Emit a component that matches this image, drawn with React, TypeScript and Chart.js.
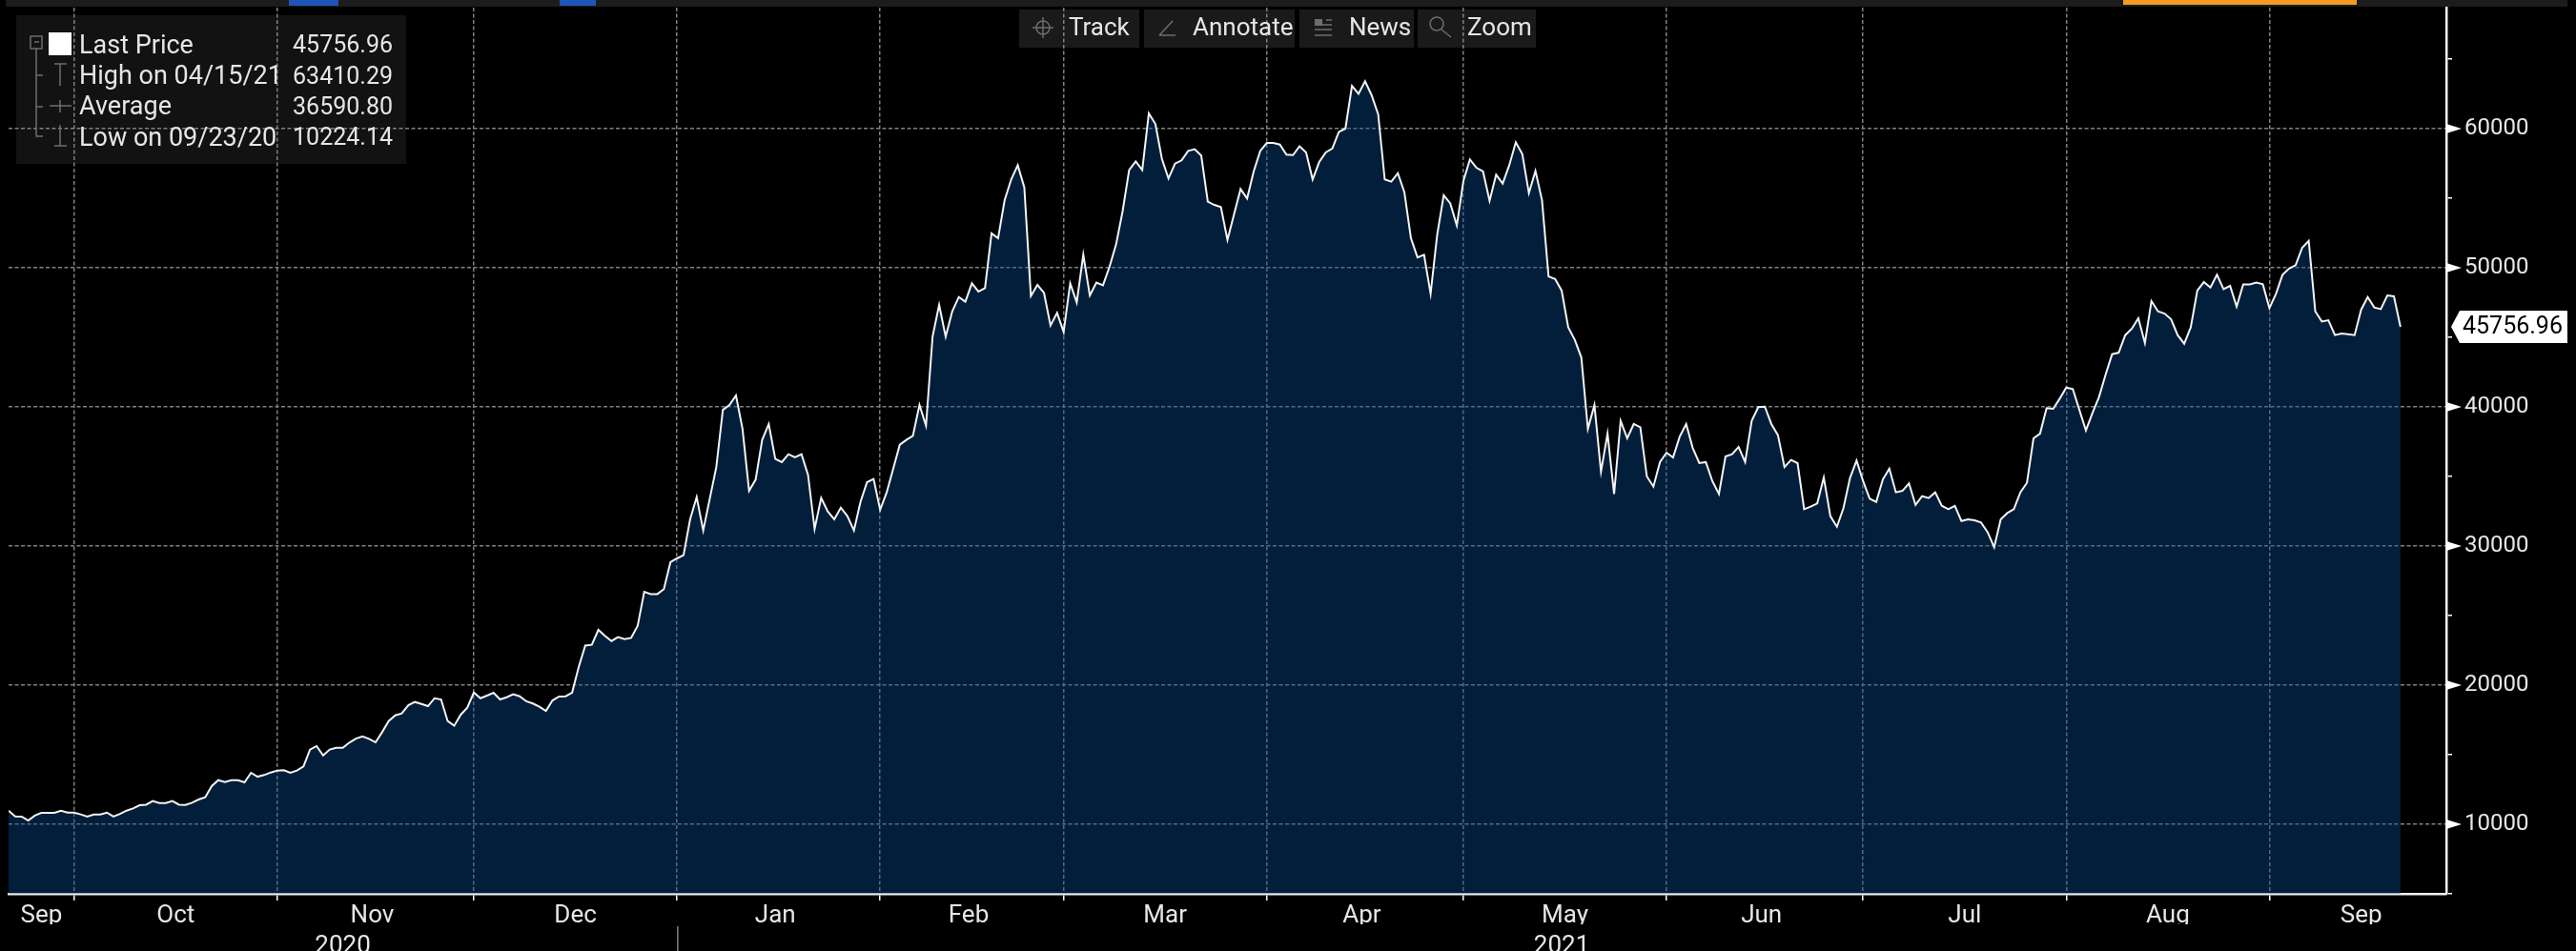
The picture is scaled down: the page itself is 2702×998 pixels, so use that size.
import { Chart, registerables, type Plugin } from "chart.js";
import { useEffect, useRef } from "react";

Chart.register(...registerables);

// one close per calendar day, starting 2020-09-20
const prices = [
  10980, 10570, 10550, 10270, 10620, 10820, 10820, 10820, 10980, 10840,
  10840, 10710, 10550, 10700, 10700, 10840, 10550, 10750, 10980, 11140,
  11370, 11410, 11670, 11530, 11530, 11670, 11410, 11390, 11550, 11780,
  11940, 12740, 13170, 13040, 13170, 13170, 13010, 13700, 13420, 13540,
  13720, 13860, 13880, 13700, 13860, 14150, 15370, 15620, 14950, 15370,
  15500, 15500, 15870, 16160, 16320, 16140, 15890, 16620, 17420, 17830,
  17970, 18560, 18790, 18650, 18490, 19060, 18970, 17420, 17080, 17880,
  18380, 19470, 19060, 19250, 19450, 18970, 19130, 19340, 19200, 18840,
  18680, 18450, 18150, 18900, 19180, 19200, 19470, 21300, 22850, 22900,
  23970, 23540, 23170, 23450, 23310, 23400, 24270, 26710, 26550, 26550,
  26900, 28840, 29110, 29340, 31920, 33520, 31120, 33400, 35680, 39790,
  40140, 40820, 38420, 33970, 34770, 37630, 38770, 36260, 36030, 36600,
  36370, 36600, 35110, 31230, 33450, 32490, 31920, 32760, 32150, 31120,
  33170, 34590, 34820, 32600, 33860, 35570, 37280, 37630, 37920, 40140,
  38650, 45050, 47330, 45050, 46870, 47900, 47560, 48880, 48290, 48540,
  52470, 52120, 54860, 56350, 57370, 55780, 47970, 48770, 48200, 45850,
  46760, 45390, 48880, 47510, 50940, 48010, 48930, 48740, 50070, 51670,
  54060, 57030, 57650, 57030, 61100, 60340, 57830, 56420, 57490, 57720,
  58400, 58520, 58060, 54750, 54520, 54360, 52010, 53840, 55660, 54980,
  56920, 58400, 58970, 58970, 58860, 58130, 58100, 58740, 58290, 56350,
  57600, 58290, 58580, 59770, 60000, 63080, 62510, 63410, 62400, 61030,
  56350, 56190, 56800, 55430, 52120, 50750, 50940, 48130, 52350, 55210,
  54630, 53040, 56230, 57790, 57190, 56920, 54820, 56690, 56050, 57370,
  59020, 58170, 55370, 56960, 54860, 49380, 49200, 48360, 45730, 44820,
  43560, 38420, 40140, 35340, 38080, 33740, 39000, 37740, 38770, 38540,
  35000, 34270, 36030, 36710, 36370, 37850, 38770, 37050, 35960, 36030,
  34660, 33740, 36440, 36600, 37120, 36030, 39000, 39980, 40020, 38770,
  37970, 35680, 36190, 35960, 32650, 32830, 33060, 34930, 32150, 31390,
  32720, 34890, 36140, 34660, 33400, 33170, 34770, 35570, 33860, 33970,
  34500, 32950, 33580, 33450, 33860, 32900, 32650, 32880, 31800, 31920,
  31850, 31690, 31000, 29910, 31920, 32370, 32650, 33860, 34540, 37740,
  38080, 39910, 39860, 40590, 41390, 41280, 39790, 38310, 39570, 40710,
  42310, 43790, 43900, 45160, 45620, 46370, 44590, 47600, 46870, 46710,
  46300, 45160, 44540, 45730, 48360, 48970, 48580, 49500, 48470, 48700,
  47210, 48810, 48810, 48930, 48810, 47100, 48130, 49500, 49950, 50180,
  51440, 51940, 46870, 46140, 46230, 45160, 45270, 45230, 45160, 46990,
  47900, 47150, 47030, 48010, 47950, 45756.96,
];

const monthEnds = [10, 41, 71, 102, 133, 161, 192, 222, 253, 283, 314, 345];
const monthCentres = [5, 25.5, 55.5, 86.5, 117, 146.5, 176.5, 206.5, 237.5, 267.5, 298.5, 329.5, 359];
const monthLabels = ["Sep", "Oct", "Nov", "Dec", "Jan", "Feb", "Mar", "Apr", "May", "Jun", "Jul", "Aug", "Sep"];
const yearCentres = [51, 237];
const yearLabels = ["2020", "2021"];
const yearBreak = 102;
const yTicks = [5000, 10000, 15000, 20000, 25000, 30000, 35000, 40000, 45000, 50000, 55000, 60000, 65000];
const legendRows = [
  ["Last Price", "45756.96"],
  ["High on 04/15/21", "63410.29"],
  ["Average", "36590.80"],
  ["Low on 09/23/20", "10224.14"],
];
const toolButtons = ["Track", "Annotate", "News", "Zoom"];

const FONT = "Roboto";
const TEXT = "#e6e6e6";
const ICON = "#6e6e6e";

function setTicks(values: number[]) {
  return (scale: any) => {
    scale.ticks = values.map((value) => ({ value }));
  };
}

// panels sit under the grid, the same way the terminal shows them
const panels: Plugin<"line"> = {
  id: "panels",
  beforeDraw(chart) {
    const { ctx } = chart;
    ctx.save();
    ctx.fillStyle = "#000";
    ctx.fillRect(0, 0, chart.width, chart.height);
    ctx.fillStyle = "#1c1c1c";
    ctx.fillRect(6, 0, 2687, 7);
    ctx.fillStyle = "#1f55b8";
    ctx.fillRect(303, 0, 52, 6);
    ctx.fillRect(587, 0, 38, 6);
    ctx.fillStyle = "#f59a23";
    ctx.fillRect(2227, 0, 245, 5);
    ctx.fillStyle = "#121212";
    ctx.fillRect(17, 16, 409, 156);
    ctx.fillStyle = "#1a1a1a";
    ctx.fillRect(1069, 10, 126, 40);
    ctx.fillRect(1200, 10, 158, 40);
    ctx.fillRect(1363, 10, 120, 40);
    ctx.fillRect(1487, 10, 124, 40);
    ctx.restore();
  },
  afterDraw(chart) {
    const { ctx } = chart;
    const y = chart.scales.y;
    ctx.save();

    // y axis arrows on the labelled ticks
    ctx.fillStyle = "#fff";
    for (const v of yTicks) {
      if (v % 10000 !== 0) continue;
      const py = y.getPixelForValue(v);
      ctx.beginPath();
      ctx.moveTo(y.left, py - 5);
      ctx.lineTo(y.left + 16, py);
      ctx.lineTo(y.left, py + 5);
      ctx.closePath();
      ctx.fill();
    }

    // last price tag
    const last = prices[prices.length - 1];
    const py = y.getPixelForValue(last);
    ctx.beginPath();
    ctx.moveTo(2571, py);
    ctx.lineTo(2580, py - 17);
    ctx.lineTo(2693, py - 17);
    ctx.lineTo(2693, py + 17);
    ctx.lineTo(2580, py + 17);
    ctx.closePath();
    ctx.fill();
    ctx.fillStyle = "#000";
    ctx.font = `25px ${FONT}`;
    ctx.textAlign = "left";
    ctx.textBaseline = "middle";
    ctx.fillText(last.toFixed(2), 2583, py + 1);

    // year divider under the axis
    const x = chart.scales.x.getPixelForValue(yearBreak);
    ctx.fillStyle = "#808080";
    ctx.fillRect(x, 972, 1.5, 26);

    // legend box
    ctx.fillStyle = "#fff";
    ctx.fillRect(51, 34, 24, 24);
    ctx.fillStyle = TEXT;
    legendRows.forEach(([name, value], i) => {
      const rowY = 49 + i * 32.3;
      ctx.textAlign = "left";
      ctx.font = `27px ${FONT}`;
      ctx.fillText(name, 83, rowY);
      ctx.textAlign = "right";
      ctx.font = `25px ${FONT}`;
      ctx.fillText(value, 412, rowY);
    });
    ctx.strokeStyle = ICON;
    ctx.lineWidth = 1.5;
    ctx.strokeRect(32, 38, 12, 13);
    ctx.beginPath();
    ctx.moveTo(38, 51);
    ctx.lineTo(38, 143);
    ctx.lineTo(45, 143);
    ctx.moveTo(38, 79);
    ctx.lineTo(45, 79);
    ctx.moveTo(38, 112);
    ctx.lineTo(45, 112);
    ctx.moveTo(36, 44);
    ctx.lineTo(41, 44);
    // high, average, low markers
    ctx.moveTo(57, 67);
    ctx.lineTo(70, 67);
    ctx.moveTo(63, 67);
    ctx.lineTo(63, 90);
    ctx.moveTo(52, 111);
    ctx.lineTo(75, 111);
    ctx.moveTo(63, 105);
    ctx.lineTo(63, 118);
    ctx.moveTo(63, 131);
    ctx.lineTo(63, 153);
    ctx.moveTo(57, 153);
    ctx.lineTo(70, 153);
    ctx.stroke();

    // toolbar
    ctx.fillStyle = TEXT;
    ctx.textAlign = "left";
    ctx.font = `26px ${FONT}`;
    [1121, 1251, 1415, 1539].forEach((tx, i) => ctx.fillText(toolButtons[i], tx, 30));
    ctx.beginPath();
    // track
    ctx.arc(1094, 29, 7, 0, Math.PI * 2);
    ctx.moveTo(1094, 18);
    ctx.lineTo(1094, 40);
    ctx.moveTo(1083, 29);
    ctx.lineTo(1105, 29);
    // annotate
    ctx.moveTo(1216, 37);
    ctx.lineTo(1230, 22);
    ctx.moveTo(1216, 37);
    ctx.lineTo(1233, 37);
    // news
    for (const ly of [21, 26, 31, 37]) {
      ctx.moveTo(ly < 26 ? 1391 : 1379, ly);
      ctx.lineTo(1397, ly);
    }
    ctx.stroke();
    ctx.fillStyle = ICON;
    ctx.fillRect(1379, 20, 8, 7);
    // zoom
    ctx.beginPath();
    ctx.arc(1507, 25, 7, 0, Math.PI * 2);
    ctx.moveTo(1512, 31);
    ctx.lineTo(1522, 39);
    ctx.stroke();
    ctx.restore();
  },
};

export default function App() {
  const canvasRef = useRef<HTMLCanvasElement>(null);

  useEffect(() => {
    const canvas = canvasRef.current;
    if (!canvas) return;
    const bottomAxis = { type: "linear", position: "bottom", min: 0, max: 372 } as const;
    const labelTicks = { color: TEXT, font: { family: FONT, size: 26 }, autoSkip: false, maxRotation: 0 };
    const chart = new Chart(canvas, {
      type: "line",
      data: {
        datasets: [
          {
            data: prices.map((y, x) => ({ x, y })),
            borderColor: "#f4f4f4",
            borderWidth: 2,
            backgroundColor: "rgba(5,75,145,0.4)",
            fill: "start",
            pointRadius: 0,
            tension: 0,
          },
        ],
      },
      options: {
        animation: false,
        responsive: false,
        devicePixelRatio: 1,
        layout: { padding: { left: 9, top: 8, right: 0, bottom: 0 } },
        plugins: { legend: { display: false }, tooltip: { enabled: false } },
        scales: {
          x: {
            ...bottomAxis,
            weight: 0,
            afterBuildTicks: setTicks(monthEnds),
            afterFit: (s: any) => {
              s.height = 8;
            },
            ticks: { display: false },
            grid: { color: "#808080", lineWidth: 1.5, tickColor: "#fff", tickLength: 7, tickBorderDash: [] },
            border: { color: "#f0f0f0", width: 2.5, dash: [4, 2.5] },
          },
          months: {
            ...bottomAxis,
            axis: "x",
            weight: 1,
            afterBuildTicks: setTicks(monthCentres),
            afterFit: (s: any) => {
              s.height = 24;
            },
            ticks: {
              ...labelTicks,
              padding: 0,
              callback: (v: number) => monthLabels[monthCentres.indexOf(v)],
            },
            grid: { display: false, drawTicks: false },
            border: { display: false },
          },
          years: {
            ...bottomAxis,
            axis: "x",
            weight: 2,
            afterBuildTicks: setTicks(yearCentres),
            afterFit: (s: any) => {
              s.height = 28;
            },
            ticks: {
              ...labelTicks,
              padding: 8,
              callback: (v: number) => yearLabels[yearCentres.indexOf(v)],
            },
            grid: { display: false, drawTicks: false },
            border: { display: false },
          },
          y: {
            type: "linear",
            position: "right",
            min: 5000,
            max: 68700,
            afterBuildTicks: setTicks(yTicks),
            afterFit: (s: any) => {
              s.width = 136;
              s.paddingTop = 0;
              s.paddingBottom = 0;
            },
            ticks: {
              color: TEXT,
              font: { family: FONT, size: 24 },
              padding: 13,
              autoSkip: false,
              callback: (v: number) => (v % 10000 === 0 ? String(v) : ""),
            },
            grid: {
              color: (c: any) => (c.tick && c.tick.value % 10000 === 0 ? "#808080" : "transparent"),
              lineWidth: 1.5,
              tickColor: "#fff",
              tickLength: 6,
              tickBorderDash: [],
            },
            border: { color: "#f0f0f0", width: 2.5, dash: [4, 2.5] },
          },
        },
      },
      plugins: [panels],
    } as any);
    return () => chart.destroy();
  }, []);

  return (
    <div style={{ position: "fixed", left: 0, top: 0, background: "#000" }}>
      <canvas ref={canvasRef} width={2702} height={998} style={{ display: "block" }} />
    </div>
  );
}
